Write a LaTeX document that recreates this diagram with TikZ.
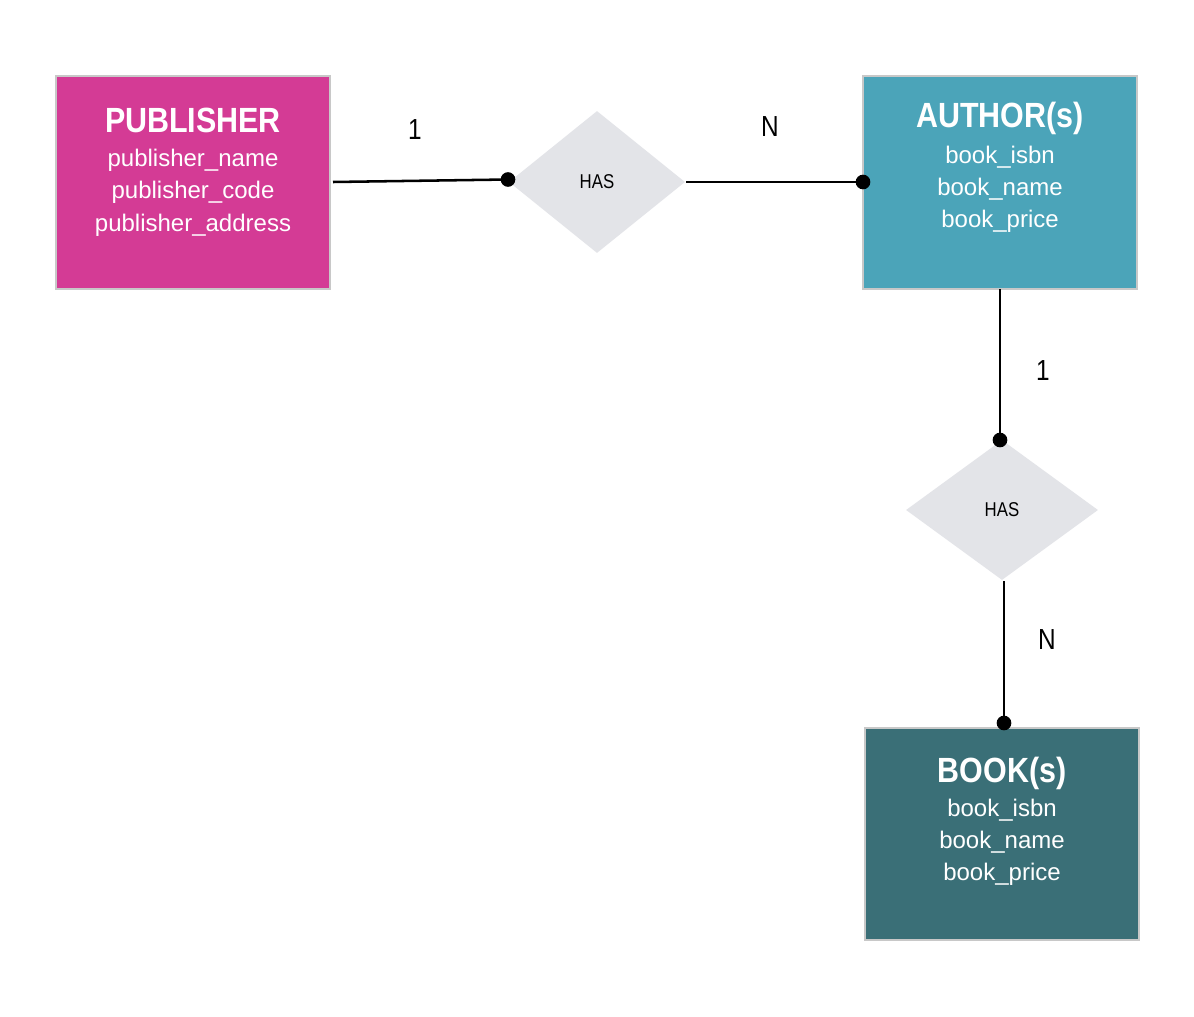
\documentclass[tikz,border=0pt]{standalone}
\usepackage{fontspec}
\setmainfont{Liberation Sans}
\newfontfamily\narrowfont{Liberation Sans}[FakeStretch=0.84]
\newfontfamily\titlefont{Liberation Sans}[FakeStretch=0.87]
\usetikzlibrary{shapes.geometric}
\definecolor{pubcol}{HTML}{D43B95}
\definecolor{authcol}{HTML}{4BA4B9}
\definecolor{bookcol}{HTML}{3A6F77}
\definecolor{relcol}{HTML}{E3E4E8}
\definecolor{edgecol}{HTML}{C8C8C8}
\begin{document}
\begin{tikzpicture}[x=0.75pt,y=-0.75pt,
  entity/.style={draw=edgecol, line width=1.5pt, rectangle, inner sep=0pt,
    minimum width=205.5pt, minimum height=159.75pt},
  etitle/.style={text=white, anchor=base, inner sep=0pt,
    font=\titlefont\fontsize{26.25}{30}\selectfont\bfseries},
  eattr/.style={text=white, anchor=base, inner sep=0pt,
    font=\fontsize{18}{22}\selectfont},
  rel/.style={diamond, fill=relcol, inner sep=0pt,
    minimum width=132pt, minimum height=106.5pt,
    font=\narrowfont\fontsize{15}{18}\selectfont},
  card/.style={anchor=base, inner sep=0pt,
    font=\narrowfont\fontsize{21.75}{26}\selectfont},
  conn/.style={line width=1.9pt, black},
  dotc/.style={fill=black}
]
\useasboundingbox (0,0) rectangle (1194,1016);
\fill[white] (0,0) rectangle (1194,1016);

% entities
\node[entity, fill=pubcol] (pub) at (193,182.5) {};
\node[etitle] (pubt) at (193,133) {PUBLISHER};
\node[eattr] (puba1) at (193,167) {publisher\_name};
\node[eattr] (puba2) at (193,199) {publisher\_code};
\node[eattr] (puba3) at (193,231) {publisher\_address};

\node[entity, fill=authcol] (auth) at (1000,182.5) {};
\node[etitle] (autht) at (1000,128) {AUTHOR(s)};
\node[eattr] (autha1) at (1000,164) {book\_isbn};
\node[eattr] (autha2) at (1000,196) {book\_name};
\node[eattr] (autha3) at (1000,228) {book\_price};

\node[entity, fill=bookcol, minimum height=159pt] (book) at (1002,833.5) {};
\node[etitle] (bookt) at (1002,782) {BOOK(s)};
\node[eattr] (booka1) at (1002,816) {book\_isbn};
\node[eattr] (booka2) at (1002,848) {book\_name};
\node[eattr] (booka3) at (1002,880) {book\_price};

% relationships
\node[rel] (has1) at (597,182) {HAS};
\node[rel, minimum width=144pt, minimum height=105pt] (has2) at (1002,510) {HAS};

% connector end points
\coordinate (p1) at (333,182);
\coordinate (d1) at (508,179.5);
\coordinate (p2) at (686,182);
\coordinate (d2) at (863,182);
\coordinate (p3) at (1000,289);
\coordinate (d3) at (1000,440);
\coordinate (p4) at (1004,581);
\coordinate (d4) at (1004,723);

\draw[conn] (p1) -- (d1);
\draw[conn] (p2) -- (d2);
\draw[conn] (p3) -- (d3);
\draw[conn] (p4) -- (d4);
\fill[dotc] (d1) circle (5.5pt);
\fill[dotc] (d2) circle (5.5pt);
\fill[dotc] (d3) circle (5.5pt);
\fill[dotc] (d4) circle (5.5pt);

% cardinalities
\node[card] (c1) at (415,140) {1};
\node[card] (c2) at (770,137) {N};
\node[card] (c3) at (1043,380) {1};
\node[card] (c4) at (1047,649) {N};
\end{tikzpicture}
\end{document}
